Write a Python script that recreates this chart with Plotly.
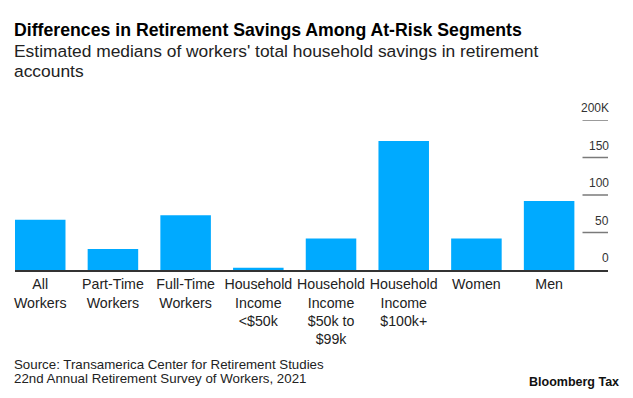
import plotly.graph_objects as go

categories = ["All<br>Workers", "Part-Time<br>Workers", "Full-Time<br>Workers",
              "Household<br>Income<br>&lt;$50k", "Household<br>Income<br>$50k to<br>$99k",
              "Household<br>Income<br>$100k+", "Women", "Men"]
savings_k = [67, 28, 73, 3, 42, 172, 42, 92]
y_ticks = [0, 50, 100, 150, 200]
y_tick_labels = ["0", "50", "100", "150", "200K"]

W, H = 633, 398
L, R, T, B = 15, 25, 119.5, 128
PW, PH = W - L - R, H - T - B
FONT = "Liberation Sans, Arial, sans-serif"


def px(x):
    return (x - L) / PW


def py(y):
    return (H - B - y) / PH


fig = go.Figure()
fig.add_trace(go.Bar(
    x=list(range(len(categories))), y=savings_k,
    marker=dict(color="#00AAFF", line=dict(width=0)),
    hoverinfo="skip",
))

shapes = []
annotations = []
for v, lab in zip(y_ticks, y_tick_labels):
    if v != 0:
        shapes.append(dict(type="line", xref="paper", yref="y", x0=px(582.5), x1=1,
                           y0=v, y1=v, line=dict(color="#7a7a7a", width=1.5)))
    annotations.append(dict(
        xref="paper", yref="y", x=1, y=v, text=lab, showarrow=False,
        xanchor="right", yanchor="middle",
        xshift=3, yshift=12,
        font=dict(family=FONT, size=12, color="#333333"),
    ))

annotations += [
    dict(xref="paper", yref="paper", x=px(12), y=py(29.5), xanchor="left", yanchor="middle",
         text="<b>Differences in Retirement Savings Among At-Risk Segments</b>", showarrow=False,
         font=dict(family=FONT, size=17.7, color="#000000")),
    dict(xref="paper", yref="paper", x=px(12), y=py(50.5), xanchor="left", yanchor="middle",
         text="Estimated medians of workers' total household savings in retirement", showarrow=False,
         font=dict(family=FONT, size=17.4, color="#222222")),
    dict(xref="paper", yref="paper", x=px(12), y=py(70.5), xanchor="left", yanchor="middle",
         text="accounts", showarrow=False,
         font=dict(family=FONT, size=17.4, color="#222222")),
    dict(xref="paper", yref="paper", x=px(12), y=py(365), xanchor="left", yanchor="middle",
         text="Source: Transamerica Center for Retirement Studies", showarrow=False,
         font=dict(family=FONT, size=13.3, color="#222222")),
    dict(xref="paper", yref="paper", x=px(12), y=py(379), xanchor="left", yanchor="middle",
         text="22nd Annual Retirement Survey of Workers, 2021", showarrow=False,
         font=dict(family=FONT, size=13.3, color="#222222")),
    dict(xref="paper", yref="paper", x=px(621), y=py(382), xanchor="right", yanchor="middle",
         text="<b>Bloomberg Tax</b>", showarrow=False,
         font=dict(family=FONT, size=12.5, color="#111111")),
]

fig.update_layout(
    width=W, height=H,
    margin=dict(l=L, r=R, t=T, b=B, pad=0),
    paper_bgcolor="white", plot_bgcolor="white",
    showlegend=False,
    bargap=0.305,
    shapes=shapes,
    annotations=annotations,
    xaxis=dict(
        range=[-0.347, 7.81],
        tickmode="array", tickvals=list(range(len(categories))), ticktext=categories,
        showgrid=False, zeroline=False,
        showline=True, linecolor="#333333", linewidth=2,
        ticks="", tickfont=dict(family=FONT, size=14.2, color="#222222"),
        automargin=False, fixedrange=True,
    ),
    yaxis=dict(
        range=[0, 200], visible=False, showgrid=False, zeroline=False, fixedrange=True,
    ),
)

fig.write_html("out.html", post_script="document.body.style.margin='0';",
               config={"displayModeBar": False})
